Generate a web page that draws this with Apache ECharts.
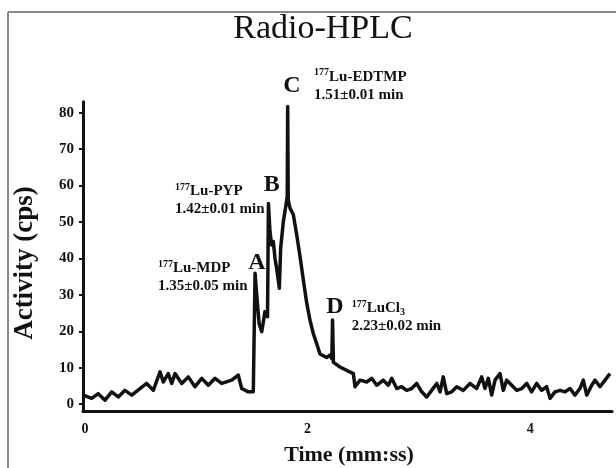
<!DOCTYPE html>
<html><head><meta charset="utf-8">
<script src="https://cdn.jsdelivr.net/npm/echarts@6/dist/echarts.min.js"></script>
<style>html,body{margin:0;padding:0;background:#fff}#c{width:616px;height:468px}</style>
</head><body><div id="c"></div>
<script>
// Retention time (min) and activity (cps)
const timeMin = [-0.015,0.060,0.119,0.180,0.240,0.299,0.359,0.420,0.494,0.554,0.614,0.674,0.703,0.748,0.779,0.809,0.869,0.928,0.988,1.049,1.108,1.168,1.228,1.318,1.377,1.408,1.467,1.512,
  1.522,1.528,1.535,1.543,1.565,1.588,1.617,1.640,1.648,1.662,1.677,1.692,1.707,1.722,1.746,1.758,1.782,1.806,1.817,1.821,1.826,
  1.842,1.872,1.902,1.932,1.962,1.992,2.022,2.051,2.081,2.111,2.171,2.200,2.218,2.224,2.232,2.246,
  2.291,2.351,2.411,2.426,2.471,2.531,2.576,2.621,2.680,2.725,2.756,2.801,2.845,2.890,2.935,2.980,3.025,3.070,3.115,3.160,3.190,3.219,3.250,3.295,3.340,3.399,3.459,3.519,3.564,3.594,3.624,3.654,3.684,3.729,3.758,3.789,3.834,3.879,3.924,3.969,4.013,4.058,4.103,4.148,4.178,4.223,4.268,4.313,4.358,4.402,4.447,4.477,4.508,4.553,4.582,4.627,4.672,4.717];
const activity = [2.5,1.6,2.9,1.1,3.4,2.0,3.8,2.5,4.3,5.7,3.8,8.9,6.1,8.4,5.7,8.4,5.7,7.5,4.8,7.1,5.2,7.1,5.7,6.6,8.0,4.3,3.4,3.4,
  3.4,35.9,33.0,29.9,22.0,19.9,25.4,24.0,55.1,47.3,43.7,44.6,40.0,37.3,31.8,42.8,50.1,54.7,57.0,81.7,56.0,
  53.8,52.0,46.5,40.5,34.0,27.8,23.0,19.4,16.7,13.8,12.8,13.5,12.5,23.1,11.5,11.2,
  10.2,9.3,8.4,4.8,6.6,6.1,7.1,5.2,6.6,5.2,7.1,4.3,4.8,3.8,4.3,5.7,3.4,2.0,3.8,5.7,3.4,7.5,2.9,3.4,4.8,3.8,5.7,4.3,7.5,4.3,7.1,2.5,6.6,8.4,3.8,6.6,5.2,3.8,4.3,5.7,3.4,5.7,3.8,4.8,1.6,3.4,3.8,3.4,4.3,2.5,4.3,6.6,2.5,5.2,6.6,4.8,6.6,8.4];
const yTicks = [0,10,20,30,40,50,60,70,80];
const xTicks = [0,2,4];
const peakLetters = ['A','B','C','D'];
const peakLetterAt = [[1.545,38.7],[1.677,60.2],[1.860,87.4],[2.246,26.7]];
const peakCompounds = ['Lu-MDP','Lu-PYP','Lu-EDTMP','LuCl'];
const peakTimes = ['1.35±0.05 min','1.42±0.01 min','1.51±0.01 min','2.23±0.02 min'];
const peakTextAt = [[0.656,34.8],[0.809,56.0],[2.058,87.4],[2.396,23.8]];

const SERIF = '"Liberation Serif","Times New Roman",serif';
const chart = echarts.init(document.getElementById('c'), null, {renderer:'canvas'});
const series = timeMin.map((t,i)=>[t, activity[i]]);
chart.setOption({
  animation:false,
  backgroundColor:'#fff',
  grid:{left:83,right:4,top:101.7,bottom:56.5,containLabel:false},
  xAxis:{type:'value',min:-0.018,max:4.735,
    axisLine:{show:true,onZero:false,lineStyle:{color:'#111',width:3}},
    axisTick:{show:false},splitLine:{show:false},
    axisLabel:{customValues:xTicks,margin:11,color:'#111',fontFamily:SERIF,fontWeight:'bold',fontSize:14}},
  yAxis:{type:'value',min:-2,max:83,
    axisLine:{show:true,onZero:false,lineStyle:{color:'#111',width:3}},
    axisTick:{show:true,customValues:yTicks,length:4,lineStyle:{color:'#111',width:2}},
    splitLine:{show:false},
    axisLabel:{customValues:yTicks,margin:9,color:'#111',fontFamily:SERIF,fontWeight:'bold',fontSize:15}},
  series:[{type:'line',data:series,showSymbol:false,smooth:false,clip:false,
    lineStyle:{color:'#111',width:3.5,join:'round'},z:5}]
});

const g = [];
// frame
g.push({type:'line',shape:{x1:8,y1:12,x2:616,y2:12},style:{stroke:'#888',lineWidth:2}});
g.push({type:'line',shape:{x1:8,y1:12,x2:8,y2:468},style:{stroke:'#888',lineWidth:2}});
// title
g.push({type:'text',x:323,y:29,style:{text:'Radio-HPLC',font:'34px '+SERIF,fill:'#111',align:'center',verticalAlign:'middle'}});
// axis names
g.push({type:'text',x:349,y:455,style:{text:'Time (mm:ss)',font:'bold 22px '+SERIF,fill:'#111',align:'center',verticalAlign:'middle'}});
g.push({type:'text',x:25,y:263,rotation:Math.PI/2,style:{text:'Activity (cps)',font:'bold 27px '+SERIF,fill:'#111',align:'center',verticalAlign:'middle'}});
// peak letters
peakLetters.forEach((L,i)=>{
  const p = chart.convertToPixel({gridIndex:0}, peakLetterAt[i]);
  g.push({type:'text',x:p[0],y:p[1],z:10,style:{text:L,font:'bold 24px '+SERIF,fill:'#111',align:'center',verticalAlign:'middle'}});
});
// peak compound labels
peakCompounds.forEach((c,i)=>{
  const p = chart.convertToPixel({gridIndex:0}, peakTextAt[i]);
  let first = '{sup|177}{b|'+c+'}' + (c==='LuCl' ? '{sub|3}' : '');
  g.push({type:'text',x:p[0],y:p[1],z:10,style:{
    text: first + '\n{b|'+peakTimes[i]+'}',
    align:'left',verticalAlign:'middle',fill:'#111',
    rich:{
      b:{fontFamily:SERIF,fontWeight:'bold',fontSize:15,lineHeight:18,fill:'#111'},
      sup:{fontFamily:SERIF,fontWeight:'bold',fontSize:10,lineHeight:18,verticalAlign:'top',fill:'#111'},
      sub:{fontFamily:SERIF,fontWeight:'bold',fontSize:10,lineHeight:18,verticalAlign:'bottom',fill:'#111'}
    }}});
});
chart.setOption({graphic:{elements:g}});
</script></body></html>
